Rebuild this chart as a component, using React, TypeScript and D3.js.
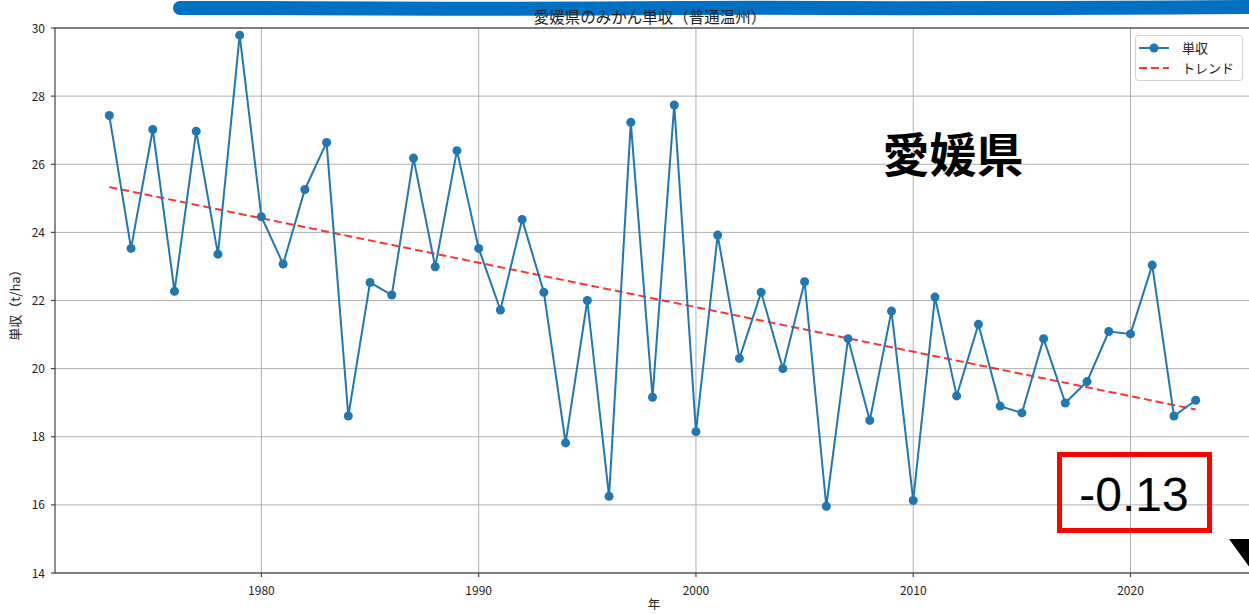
import React from "react";
import * as d3 from "d3";

const years: number[] = [
  1973, 1974, 1975, 1976, 1977, 1978, 1979, 1980, 1981, 1982, 1983, 1984, 1985,
  1986, 1987, 1988, 1989, 1990, 1991, 1992, 1993, 1994, 1995, 1996, 1997, 1998,
  1999, 2000, 2001, 2002, 2003, 2004, 2005, 2006, 2007, 2008, 2009, 2010, 2011,
  2012, 2013, 2014, 2015, 2016, 2017, 2018, 2019, 2020, 2021, 2022, 2023,
];
const yields: number[] = [
  27.43, 23.53, 27.02, 22.27, 26.97, 23.36, 29.79, 24.46, 23.07, 25.26, 26.64,
  18.61, 22.53, 22.16, 26.18, 22.99, 26.4, 23.53, 21.72, 24.38, 22.24, 17.82,
  22.0, 16.25, 27.23, 19.16, 27.74, 18.15, 23.92, 20.3, 22.24, 20.0, 22.55,
  15.96, 20.88, 18.48, 21.69, 16.13, 22.1, 19.2, 21.3, 18.9, 18.7, 20.88,
  18.99, 19.62, 21.09, 21.02, 23.04, 18.61, 19.07,
];
const trendYears: number[] = [1973, 2023];
const trendValues: number[] = [25.33, 18.8];
const xTicks: number[] = [1980, 1990, 2000, 2010, 2020];
const yTicks: number[] = [14, 16, 18, 20, 22, 24, 26, 28, 30];
const titleText = "愛媛県のみかん単収（普通温州）";
const xLabel = "年";
const yLabel = "単収（t/ha）";
const legendLabels: string[] = ["単収", "トレンド"];
const bigLabel = "愛媛県";
const slopeLabel = "-0.13";

const W = 1249;
const H = 614;
const M = { left: 55, right: 1250, top: 28, bottom: 573 };
const FONT = "'IPAexGothic', 'Noto Sans CJK JP', sans-serif";
const BLUE = "#1f77b4";

export default function App() {
  const x = d3.scaleLinear().domain([1970.5, 2025.5]).range([M.left, M.right]);
  const y = d3.scaleLinear().domain([14, 30]).range([M.bottom, M.top]);
  const line = d3
    .line<number>()
    .x((_, i) => x(years[i]))
    .y((d) => y(d));
  const trend = d3
    .line<number>()
    .x((_, i) => x(trendYears[i]))
    .y((d) => y(d));

  const brushPts: [number, number][] = [
    [180, 8], [300, 8], [450, 9], [600, 8.5], [750, 7.5], [900, 8.5], [1050, 8], [1180, 7.5], [1260, 7],
  ];
  const brush = d3.line().curve(d3.curveBasis)(brushPts) || "";

  return (
    <svg
      width={W}
      height={H}
      style={{ position: "absolute", left: 0, top: 0, background: "#fff" }}
      fontFamily={FONT}
    >
      <rect x={0} y={0} width={W} height={H} fill="#fff" />
      {/* grid */}
      {xTicks.map((t) => (
        <line key={"gx" + t} x1={x(t)} x2={x(t)} y1={M.top} y2={M.bottom} stroke="#b0b0b0" strokeWidth={1} />
      ))}
      {yTicks.map((t) => (
        <line key={"gy" + t} x1={M.left} x2={M.right} y1={y(t)} y2={y(t)} stroke="#b0b0b0" strokeWidth={1} />
      ))}
      {/* trend */}
      <path d={trend(trendValues) || ""} fill="none" stroke="#ff0000" strokeOpacity={0.8} strokeWidth={2} strokeDasharray="8,4" />
      {/* data */}
      <path d={line(yields) || ""} fill="none" stroke={BLUE} strokeWidth={2} />
      {yields.map((v, i) => (
        <circle key={"p" + i} cx={x(years[i])} cy={y(v)} r={4.5} fill={BLUE} />
      ))}
      {/* spines */}
      <rect x={M.left} y={M.top} width={M.right - M.left} height={M.bottom - M.top} fill="none" stroke="#444" strokeWidth={1.2} />
      {/* ticks */}
      {xTicks.map((t) => (
        <g key={"tx" + t}>
          <line x1={x(t)} x2={x(t)} y1={M.bottom} y2={M.bottom + 4} stroke="#444" strokeWidth={1.2} />
          <text x={x(t)} y={595} textAnchor="middle" fontSize={12} fill="#222">{t}</text>
        </g>
      ))}
      {yTicks.map((t) => (
        <g key={"ty" + t}>
          <line x1={M.left - 4} x2={M.left} y1={y(t)} y2={y(t)} stroke="#444" strokeWidth={1.2} />
          <text x={45} y={y(t) + 4.5} textAnchor="end" fontSize={12} fill="#222">{t}</text>
        </g>
      ))}
      {/* axis labels */}
      <text x={654} y={609} textAnchor="middle" fontSize={12.5} fill="#222">{xLabel}</text>
      <text transform="translate(20,302) rotate(-90)" textAnchor="middle" fontSize={13} fill="#222">{yLabel}</text>
      {/* legend */}
      <rect x={1135.5} y={35.5} width={107} height={45} rx={3} fill="#fff" fillOpacity={0.8} stroke="#d0d0d0" />
      <line x1={1139} x2={1169} y1={48} y2={48} stroke={BLUE} strokeWidth={2} />
      <circle cx={1154} cy={48} r={4.5} fill={BLUE} />
      <text x={1182} y={53} fontSize={13} fill="#222">{legendLabels[0]}</text>
      <line x1={1139} x2={1169} y1={68} y2={68} stroke="#ff0000" strokeOpacity={0.8} strokeWidth={2} strokeDasharray="8,4" />
      <text x={1182} y={73} fontSize={13} fill="#222">{legendLabels[1]}</text>
      {/* annotations */}
      <path d={brush} fill="none" stroke="#0070c0" strokeWidth={14} strokeLinecap="round" />
      {/* title drawn over the brush */}
      <text x={650} y={22.5} textAnchor="middle" fontSize={15.5} fill="#222">{titleText}</text>
      <text x={953} y={172} textAnchor="middle" fontSize={47} fontWeight="bold" fill="#000" fontFamily="'Noto Sans CJK JP', sans-serif">{bigLabel}</text>
      <rect x={1059.5} y={454.5} width={150} height={76} fill="none" stroke="#ff0000" strokeWidth={5} />
      <text x={1134} y={511} textAnchor="middle" fontSize={48} fill="#000" fontFamily="'Liberation Sans', Arial, sans-serif">{slopeLabel}</text>
      <path d="M1229,539 L1250,539 L1250,568 Z" fill="#000" />
    </svg>
  );
}
